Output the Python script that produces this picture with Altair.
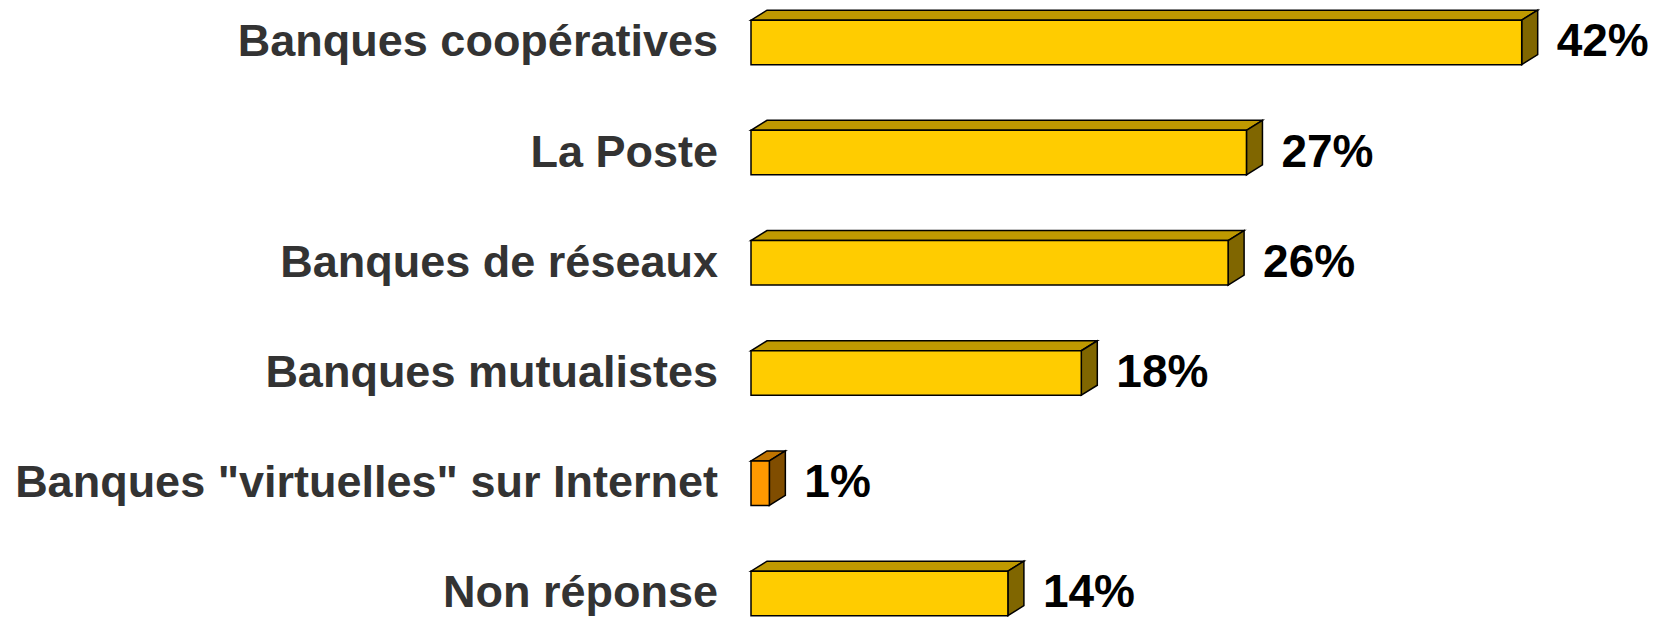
import altair as alt
import pandas as pd

# ---- data ----
categories = [
    "Banques coopératives",
    "La Poste",
    "Banques de réseaux",
    "Banques mutualistes",
    'Banques "virtuelles" sur Internet',
    "Non réponse",
]
values = [42, 27, 26, 18, 1, 14]
value_labels = ["42%", "27%", "26%", "18%", "1%", "14%"]
highlighted = ['Banques "virtuelles" sur Internet']

# ---- styling constants ----
PX_PER_PCT = 18.35
ROW_PX = 110.2
BAR_FRAC = 44.5 / ROW_PX
DEPTH_X = 16 / PX_PER_PCT
DEPTH_Y = 10 / ROW_PX
W = 844
H = 610
X_MAX = W / PX_PER_PCT
Y_MIN = -34.4 / ROW_PX
Y_MAX = Y_MIN + H / ROW_PX

GOLD = {"front": "#FFCC00", "top": "#BF9900", "side": "#806600"}
ORANGE = {"front": "#FF9900", "top": "#BF7300", "side": "#804D00"}

rows = []
faces = []
for i, (c, v, lab) in enumerate(zip(categories, values, value_labels)):
    pal = ORANGE if c in highlighted else GOLD
    top = i - BAR_FRAC / 2
    bot = i + BAR_FRAC / 2
    rows.append(dict(cat=c, idx=i, val=v, lab=lab, ytop=top, ybot=bot, yc=i,
                     col=pal["front"]))
    # top face (parallelogram) as area vertices
    for k, (px, ya, yb) in enumerate([(0, top, top), (DEPTH_X, top, top - DEPTH_Y),
                                      (v, top, top - DEPTH_Y),
                                      (v + DEPTH_X, top - DEPTH_Y, top - DEPTH_Y)]):
        faces.append(dict(grp=f"t{i}", face="top", k=k, px=px, ya=ya, yb=yb, col=pal["top"]))
    # side face
    for k, (px, ya, yb) in enumerate([(v, top, bot), (v + DEPTH_X, top - DEPTH_Y, bot - DEPTH_Y)]):
        faces.append(dict(grp=f"s{i}", face="side", k=k, px=px, ya=ya, yb=yb, col=pal["side"]))

bars = pd.DataFrame(rows)
fdf = pd.DataFrame(faces)

xs = alt.Scale(domain=[0, X_MAX], nice=False, zero=False)
ys = alt.Scale(domain=[Y_MIN, Y_MAX], nice=False, zero=False, reverse=True)

faces_layer = (
    alt.Chart(fdf)
    .mark_area(orient="vertical", stroke="black", strokeWidth=1.5)
    .encode(
        x=alt.X("px:Q", scale=xs, axis=None),
        y=alt.Y("ya:Q", scale=ys, axis=None, stack=None),
        y2="yb:Q",
        fill=alt.Fill("col:N", scale=None),
        detail="grp:N",
    )
)

front = (
    alt.Chart(bars)
    .transform_calculate(zero="0")
    .mark_rect(stroke="black", strokeWidth=1.5)
    .encode(
        x=alt.X("zero:Q", scale=xs, axis=None),
        x2="val:Q",
        y=alt.Y("ytop:Q", scale=ys, axis=None),
        y2="ybot:Q",
        fill=alt.Fill("col:N", scale=None),
    )
)

cat_text = (
    alt.Chart(bars)
    .transform_calculate(zero="0")
    .mark_text(align="right", baseline="middle", dx=-33, fontSize=45,
               font="Liberation Sans", fontWeight="bold", color="#333333")
    .encode(
        x=alt.X("zero:Q", scale=xs, axis=None),
        y=alt.Y("yc:Q", scale=ys, axis=None),
        text="cat:N",
    )
)

val_text = (
    alt.Chart(bars)
    .mark_text(align="left", baseline="middle", dx=35, fontSize=46,
               font="Liberation Sans", fontWeight="bold", color="#000000")
    .encode(
        x=alt.X("val:Q", scale=xs, axis=None),
        y=alt.Y("yc:Q", scale=ys, axis=None),
        text="lab:N",
    )
)

chart = (
    alt.layer(faces_layer, front, cat_text, val_text)
    .properties(
        width=W,
        height=H,
        padding={"left": 743, "top": 0, "right": 58, "bottom": 0},
        autosize=alt.AutoSizeParams(type="none"),
        background="white",
    )
    .configure_view(stroke=None)
)

chart.save("out.html", embed_options={"renderer": "svg", "actions": False})
